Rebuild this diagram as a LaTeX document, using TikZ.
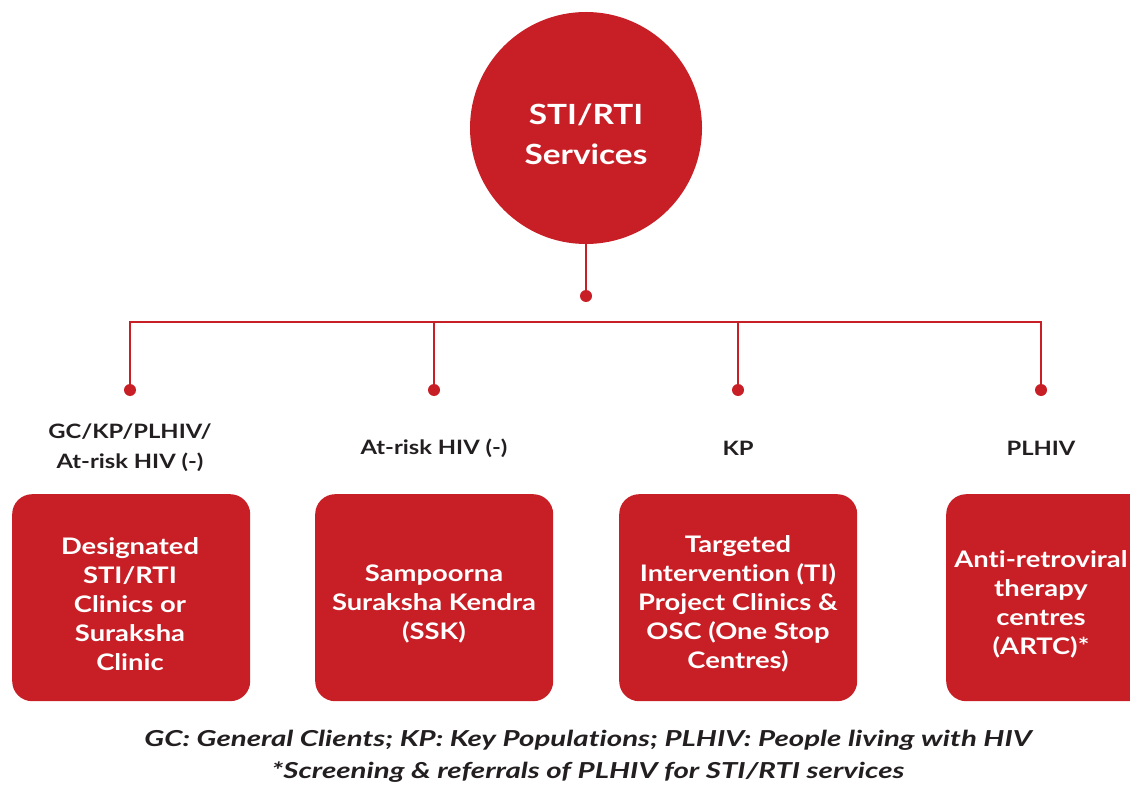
\documentclass[tikz,border=0pt]{standalone}
\usepackage{fontspec}
\setmainfont[FakeStretch=1.2,Ligatures={NoCommon,NoRare}]{Lato}
\newfontfamily\footf[FakeStretch=1.34,Ligatures={NoCommon,NoRare}]{Lato}
\definecolor{rd}{RGB}{200,30,37}
\definecolor{tx}{RGB}{35,31,32}
\begin{document}
\begin{tikzpicture}[x=1pt,y=-1pt,
  conn/.style={draw=rd,line width=2.6pt},
  dotn/.style={circle,fill=rd,inner sep=0pt,minimum size=12pt},
  boxn/.style={fill=rd,rounded corners=20pt,minimum width=238pt,minimum height=207pt,anchor=north west,inner sep=0pt},
  boxtxt/.style={text=white,font=\fontsize{22.8}{29}\selectfont\bfseries,align=center},
  lab/.style={text=tx,font=\fontsize{19.8}{30}\selectfont\bfseries,align=center}]
\useasboundingbox (0,0) rectangle (1130,786);
\clip (0,0) rectangle (1130,786);
\node[circle,fill=rd,minimum size=232pt,inner sep=0pt] (top) at (586,128) {};
\node[text=white,font=\fontsize{27.8}{40}\selectfont\bfseries,align=center] (toptxt) at (586,134) {STI/RTI\\Services};
\node[dotn] (d0) at (586,296) {};
\draw[conn] (top.south) -- (d0.center);
\coordinate (h1) at (130,322);
\coordinate (h2) at (434,322);
\coordinate (h3) at (738,322);
\coordinate (h4) at (1041,322);
\node[dotn] (d1) at (130,390) {};
\node[dotn] (d2) at (434,390) {};
\node[dotn] (d3) at (738,390) {};
\node[dotn] (d4) at (1041,390) {};
\draw[conn] (d1.center) -- (h1) -- (h4) -- (d4.center);
\draw[conn] (h2) -- (d2.center);
\draw[conn] (h3) -- (d3.center);
\node[lab] (l1) at (130,448) {GC/KP/PLHIV/\\At-risk HIV (-)};
\node[lab] (l2) at (434,448) {At-risk HIV (-)};
\node[lab] (l3) at (738,448) {KP};
\node[lab] (l4) at (1041,448) {PLHIV};
\node[boxn] (b1) at (12,494) {};
\node[boxn] (b2) at (315,494) {};
\node[boxn] (b3) at (619,494) {};
\node[boxn,minimum width=210pt] (b4) at (946,494) {};
\node[boxtxt] (t1) at (130,604) {Designated\\STI/RTI\\Clinics or\\Suraksha\\Clinic};
\node[boxtxt] (t2) at (434,604) {Sampoorna\\Suraksha Kendra\\(SSK)};
\node[boxtxt] (t3) at (738,604) {Targeted\\Intervention (TI)\\Project Clinics \&\\OSC (One Stop\\Centres)};
\node[boxtxt] (t4) at (1041,604) {Anti-retroviral\\therapy\\centres\\(ARTC)*};
\node[text=tx,font=\footf\fontsize{22}{32}\selectfont\bfseries\itshape,align=center] (foot) at (588,756) {GC: General Clients; KP: Key Populations; PLHIV: People living with HIV\\*Screening \& referrals of PLHIV for STI/RTI services};
\end{tikzpicture}
\end{document}
